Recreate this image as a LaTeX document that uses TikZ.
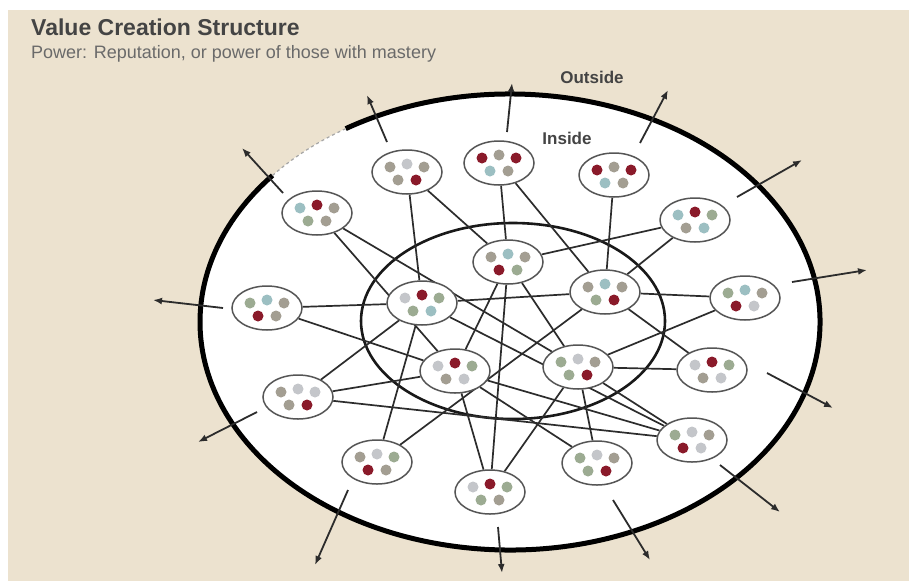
\documentclass[tikz,border=0pt]{standalone}
\usepackage{fontspec}
\setsansfont{Liberation Sans}
\usepackage{xcolor}
\usepackage{tikz}
\usetikzlibrary{arrows.meta,positioning,shapes.geometric,calc}
\definecolor{paper}{HTML}{ECE2CF}
\definecolor{ink}{HTML}{2C2C2C}
\definecolor{rim}{HTML}{555555}
\definecolor{headgray}{HTML}{444444}
\definecolor{subgray}{HTML}{6A6A6A}
\definecolor{dr}{HTML}{8A1A2A}
\definecolor{dg}{HTML}{A39E92}
\definecolor{dn}{HTML}{9CAB92}
\definecolor{db}{HTML}{9CBFC2}
\definecolor{dl}{HTML}{C4C6CA}
\pgfdeclarelayer{backdrop}
\pgfdeclarelayer{links}
\pgfsetlayers{backdrop,links,main}
\tikzset{
  >={Latex[length=9pt,width=7pt]},
  cluster/.style n args={5}{ellipse, draw=rim, line width=1.5pt, fill=white,
    minimum width=70pt, minimum height=44pt, inner sep=0pt,
    path picture={
      \coordinate (pp) at (path picture bounding box.center);
      \fill[#1] ($(pp)+(-17,-5)$) circle (5.5pt);
      \fill[#2] ($(pp)+(0,-8)$) circle (5.5pt);
      \fill[#3] ($(pp)+(17,-5)$) circle (5.5pt);
      \fill[#4] ($(pp)+(-9,8)$) circle (5.5pt);
      \fill[#5] ($(pp)+(9,8)$) circle (5.5pt);
    }},
  link/.style={draw=ink, line width=1.7pt},
  outward/.style={->, draw=ink, line width=1.8pt},
  rimline/.style={draw=black, line width=5pt},
  faintline/.style={draw=black!35, line width=1.2pt, dashed},
  coreline/.style={draw=black!90, line width=2.6pt},
  tag/.style={font=\sffamily\bfseries\fontsize{17}{20}\selectfont, text=headgray, inner sep=0pt},
}

\begin{document}
\begin{tikzpicture}[x=1pt, y=-1pt]
  \useasboundingbox (0,0) rectangle (909,581);
  \coordinate (ctr) at (510,322);
  \coordinate (core) at (513,321);

  \begin{pgfonlayer}{backdrop}
    \fill[paper] (8,10) rectangle (909,581);
    \fill[white] (ctr) ellipse [x radius=310, y radius=228];
    \draw[rimline] ($(ctr)+(238:310 and 228)$) arc [start angle=238, end angle=580, x radius=310, y radius=228];
    \draw[faintline] ($(ctr)+(220:310 and 228)$) arc [start angle=220, end angle=238, x radius=310, y radius=228];
    \draw[coreline] (core) ellipse [x radius=152, y radius=98];
    % arrows leaving the outer ring
    \foreach \i/\sx/\sy/\ex/\ey in {1/387/142/367/95, 2/507/132/512/83, 3/640/143/668/90,
        4/737/197/802/160, 5/792/282/867/270, 6/767/373/833/408, 7/720/465/780/512,
        8/613/500/650/560, 9/498/527/502/573, 10/348/490/315/565, 11/257/412/198/442,
        12/223/308/153/300, 13/283/193/242/148}{
      \coordinate (from\i) at (\sx,\sy);
      \coordinate (to\i) at (\ex,\ey);
      \draw[outward] (from\i) -- (to\i);
    }
  \end{pgfonlayer}

  \node[font=\sffamily\bfseries\fontsize{23}{27}\selectfont, text=headgray, anchor=base west, inner sep=0pt] (title) at (31,35) {Value Creation Structure};
  \node[below right=10pt and 0pt of title.south west, font=\sffamily\fontsize{18}{21}\selectfont, text=subgray, inner sep=0pt] (subtitle) {Power: Reputation, or power of those with mastery};
  \node[tag] (outside) at (592,77) {Outside};
  \node[tag] (inside) at (567,138) {Inside};

  \node[cluster={dg}{dl}{dg}{dg}{dr}] (c1) at (407,172) {};
  \node[cluster={dr}{dg}{dr}{db}{dg}] (c2) at (499,163) {};
  \node[cluster={dr}{dg}{dr}{db}{dg}] (c3) at (614,175) {};
  \node[cluster={db}{dr}{dg}{dn}{dg}] (c4) at (317,213) {};
  \node[cluster={db}{dr}{dn}{dg}{db}] (c5) at (695,220) {};
  \node[cluster={dg}{db}{dg}{dr}{dn}] (c6) at (508,262) {};
  \node[cluster={dl}{dr}{dn}{dn}{db}] (c7) at (422,303) {};
  \node[cluster={dg}{db}{dg}{dn}{dr}] (c8) at (605,292) {};
  \node[cluster={dn}{db}{dg}{dr}{dg}] (c9) at (267,308) {};
  \node[cluster={dn}{db}{dg}{dr}{dl}] (c10) at (745,298) {};
  \node[cluster={dl}{dr}{dn}{dg}{dl}] (c11) at (455,371) {};
  \node[cluster={dn}{dl}{dg}{dn}{dr}] (c12) at (578,367) {};
  \node[cluster={dg}{dl}{dl}{dg}{dr}] (c13) at (298,397) {};
  \node[cluster={dl}{dr}{dn}{dg}{dl}] (c14) at (712,370) {};
  \node[cluster={dg}{dl}{dn}{dr}{dg}] (c15) at (377,462) {};
  \node[cluster={dn}{dl}{dg}{dr}{dl}] (c16) at (692,440) {};
  \node[cluster={dn}{dl}{dg}{dn}{dr}] (c17) at (597,463) {};
  \node[cluster={dl}{dr}{dn}{dn}{dg}] (c18) at (490,492) {};

  \begin{pgfonlayer}{links}
    \draw[link] (c1) -- (c7);
    \draw[link] (c1) -- (c6);
    \draw[link] (c2) -- (c6);
    \draw[link] (c2) -- (c8);
    \draw[link] (c3) -- (c8);
    \draw[link] (c4) -- (c11);
    \draw[link] (c4) -- (c12);
    \draw[link] (c5) -- (c6);
    \draw[link] (c5) -- (c8);
    \draw[link] (c6) -- (c11);
    \draw[link] (c6) -- (c12);
    \draw[link] (c6) -- (c18);
    \draw[link] (c7) -- (c8);
    \draw[link] (c7) -- (c13);
    \draw[link] (c7) -- (c16);
    \draw[link] (c7) -- (c15);
    \draw[link] (c8) -- (c10);
    \draw[link] (c8) -- (c14);
    \draw[link] (c8) -- (c15);
    \draw[link] (c9) -- (c7);
    \draw[link] (c9) -- (c11);
    \draw[link] (c10) -- (c12);
    \draw[link] (c11) -- (c13);
    \draw[link] (c11) -- (c16);
    \draw[link] (c11) -- (c17);
    \draw[link] (c11) -- (c18);
    \draw[link] (c12) -- (c14);
    \draw[link] (c12) -- (c16);
    \draw[link] (c12) -- (c17);
    \draw[link] (c12) -- (c18);
    \draw[link] (c13) -- (c16);
  \end{pgfonlayer}
\end{tikzpicture}
\end{document}
